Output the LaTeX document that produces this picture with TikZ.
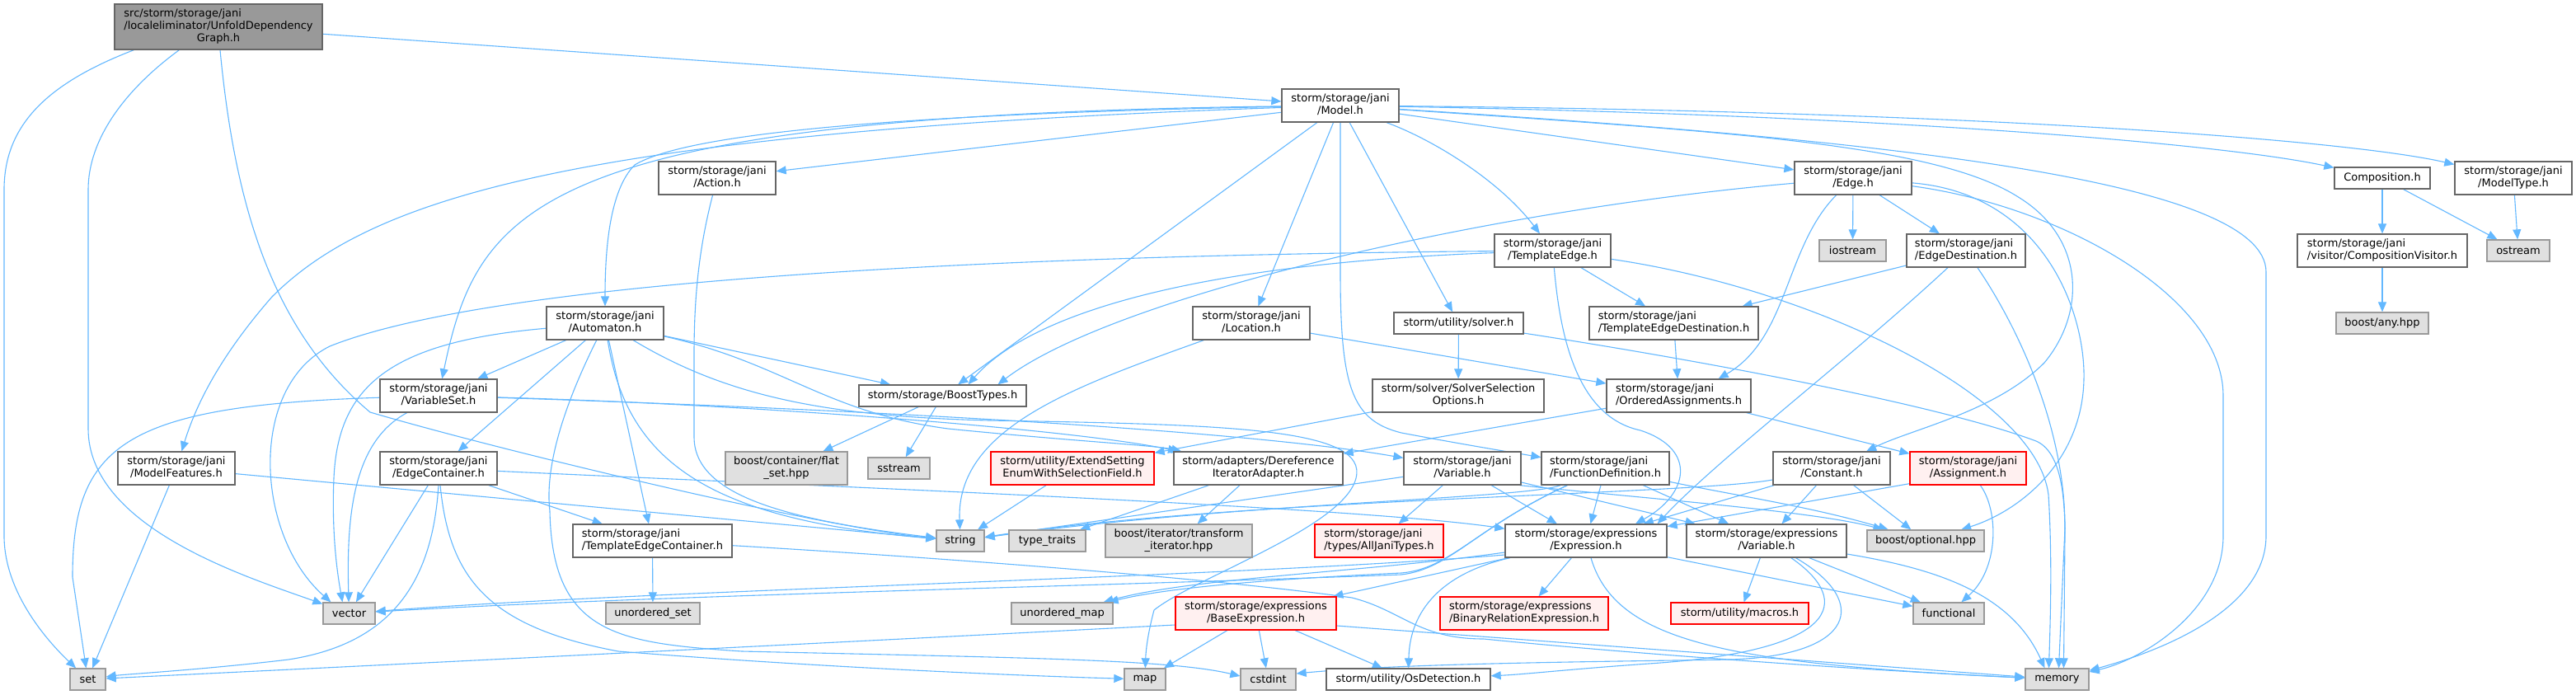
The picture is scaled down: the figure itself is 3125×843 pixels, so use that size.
\documentclass[tikz,border=0pt]{standalone}
\usepackage{fontspec}
\setmainfont{DejaVu Sans}
\usetikzlibrary{arrows.meta,calc}
\definecolor{steel}{HTML}{63B8FF}
\definecolor{gfor}{HTML}{666666}
\definecolor{gsix}{HTML}{999999}
\definecolor{gext}{HTML}{E0E0E0}
\definecolor{rfill}{HTML}{FFF0F0}
\definecolor{rdraw}{HTML}{FF0000}
\pgfdeclarelayer{back}
\pgfdeclarelayer{bg}
\pgfsetlayers{back,bg,main}
\newcommand\twol[2]{\begin{tabular}{@{}l@{}}#1\\\multicolumn{1}{@{}c@{}}{#2}\end{tabular}}
\newcommand\dn[7]{\node[#6,minimum width=#4pt,minimum height=#5pt] (#1) at (#2,#3) {#7};}
\begin{document}
\begin{tikzpicture}[x=1pt,y=-1pt,
  nd/.style={draw=gfor,fill=white,line width=1.3pt,inner sep=0pt,font=\fontsize{13}{15}\selectfont},
  ext/.style={nd,draw=gsix,fill=gext},
  redn/.style={nd,draw=rdraw,fill=rfill},
  mainn/.style={nd,fill=gsix},
  dep/.style={draw=steel,line width=1.1pt,-{Triangle[length=12pt,width=10pt]}}]
\begin{pgfonlayer}{back}
\fill[white] (0,0) rectangle (3125,843);
\end{pgfonlayer}
\useasboundingbox (0,0) rectangle (3125,843);

\dn{main}{265}{32.5}{252}{55}{mainn}{\begin{tabular}{@{}l@{}}src/storm/storage/jani\\/localeliminator/UnfoldDependency\\\multicolumn{1}{@{}c@{}}{Graph.h}\end{tabular}}
\dn{Model}{1626}{128}{142}{40}{nd}{\twol{storm/storage/jani}{/Model.h}}
\dn{Action}{870}{216}{142}{40}{nd}{\twol{storm/storage/jani}{/Action.h}}
\dn{Edge}{2248}{216}{142}{40}{nd}{\twol{storm/storage/jani}{/Edge.h}}
\dn{Composition}{2890}{216}{116}{26}{nd}{Composition.h}
\dn{ModelType}{3049}{216}{142}{40}{nd}{\twol{storm/storage/jani}{/ModelType.h}}
\dn{TemplateEdge}{1883.5}{304}{141}{40}{nd}{\twol{storm/storage/jani}{/TemplateEdge.h}}
\dn{iostream}{2247.5}{304}{81}{26}{ext}{iostream}
\dn{EdgeDest}{2385}{304}{144}{40}{nd}{\twol{storm/storage/jani}{/EdgeDestination.h}}
\dn{CompVisitor}{2890}{304}{206}{40}{nd}{\twol{storm/storage/jani}{/visitor/CompositionVisitor.h}}
\dn{ostream}{3055}{304}{76}{26}{ext}{ostream}
\dn{Automaton}{734}{392}{142}{40}{nd}{\twol{storm/storage/jani}{/Automaton.h}}
\dn{Location}{1518}{392}{142}{40}{nd}{\twol{storm/storage/jani}{/Location.h}}
\dn{solver}{1769.5}{392}{157}{26}{nd}{storm/utility/solver.h}
\dn{TEDest}{2030.5}{392}{205}{40}{nd}{\twol{storm/storage/jani}{/TemplateEdgeDestination.h}}
\dn{boostany}{2890}{392}{112}{26}{ext}{boost/any.hpp}
\dn{VariableSet}{532}{480}{142}{40}{nd}{\twol{storm/storage/jani}{/VariableSet.h}}
\dn{BoostTypes}{1143.5}{480}{203}{26}{nd}{storm/storage/BoostTypes.h}
\dn{SolverSel}{1769}{480}{208}{40}{nd}{\twol{storm/solver/SolverSelection}{Options.h}}
\dn{OrderedAss}{2036.5}{480}{175}{40}{nd}{\twol{storm/storage/jani}{/OrderedAssignments.h}}
\dn{ModelFeatures}{214}{568}{142}{40}{nd}{\twol{storm/storage/jani}{/ModelFeatures.h}}
\dn{EdgeContainer}{532}{568}{142}{40}{nd}{\twol{storm/storage/jani}{/EdgeContainer.h}}
\dn{flatset}{954}{568}{148}{40}{ext}{\twol{boost/container/flat}{\_set.hpp}}
\dn{sstream}{1090.5}{568}{75}{26}{ext}{sstream}
\dn{ExtendSetting}{1301}{568}{198}{40}{redn}{\twol{storm/utility/ExtendSetting}{EnumWithSelectionField.h}}
\dn{Deref}{1526.5}{568}{205}{40}{nd}{\twol{storm/adapters/Dereference}{IteratorAdapter.h}}
\dn{JVariable}{1774}{568}{142}{40}{nd}{\twol{storm/storage/jani}{/Variable.h}}
\dn{FunDef}{1947.5}{568}{155}{40}{nd}{\twol{storm/storage/jani}{/FunctionDefinition.h}}
\dn{Constant}{2222}{568}{142}{40}{nd}{\twol{storm/storage/jani}{/Constant.h}}
\dn{Assignment}{2387.5}{568}{141}{40}{redn}{\twol{storm/storage/jani}{/Assignment.h}}
\dn{TEContainer}{791.5}{656}{193}{40}{nd}{\twol{storm/storage/jani}{/TemplateEdgeContainer.h}}
\dn{string}{1165}{656}{58}{26}{ext}{string}
\dn{typetraits}{1270.5}{656}{93}{26}{ext}{type\_traits}
\dn{transform}{1430}{656}{178}{40}{ext}{\twol{boost/iterator/transform}{\_iterator.hpp}}
\dn{AllJani}{1673}{656}{156}{40}{redn}{\twol{storm/storage/jani}{/types/AllJaniTypes.h}}
\dn{Expression}{1924}{656}{196}{40}{nd}{\twol{storm/storage/expressions}{/Expression.h}}
\dn{EVariable}{2143}{656}{194}{40}{nd}{\twol{storm/storage/expressions}{/Variable.h}}
\dn{optional}{2336}{656}{142}{26}{ext}{boost/optional.hpp}
\dn{vector}{423.5}{744}{63}{26}{ext}{vector}
\dn{uset}{792}{744}{114}{26}{ext}{unordered\_set}
\dn{umap}{1288.5}{744}{123}{26}{ext}{unordered\_map}
\dn{BaseExpr}{1523.5}{744}{195}{40}{redn}{\twol{storm/storage/expressions}{/BaseExpression.h}}
\dn{BinRel}{1849}{744}{204}{40}{redn}{\twol{storm/storage/expressions}{/BinaryRelationExpression.h}}
\dn{macros}{2110.5}{744}{167}{26}{redn}{storm/utility/macros.h}
\dn{functional}{2364}{744}{86}{26}{ext}{functional}
\dn{set}{106.5}{824}{43}{26}{ext}{set}
\dn{map}{1389}{824}{50}{26}{ext}{map}
\dn{cstdint}{1538.5}{824}{67}{26}{ext}{cstdint}
\dn{OsDet}{1708.5}{824}{199}{26}{nd}{storm/utility/OsDetection.h}
\dn{memory}{2495.5}{824}{77}{26}{ext}{memory}

\begin{pgfonlayer}{bg}
% main
\draw[dep] (main) -- (Model);
\draw[dep] ($(main.south west)+(24,0)$) .. controls (60,100) and (5,150) .. (5,230) -- (5,650) .. controls (5,720) and (60,780) .. (set);
\draw[dep] ($(main.south west)+(79,0)$) .. controls (150,110) and (107,170) .. (107,230) -- (107,520) .. controls (107,640) and (300,700) .. (vector);
\draw[dep] ($(main.south)+(2,0)$) .. controls (285,250) and (330,400) .. (449,500) .. controls (620,550) and (1000,640) .. (string);
% Model
\draw[dep] (Model) -- (Action);
\draw[dep] (Model) .. controls (1000,140) and (820,170) .. (770,200) .. controls (740,230) and (734,300) .. (Automaton);
\draw[dep] (Model) .. controls (650,140) and (580,250) .. (VariableSet);
\draw[dep] (Model) .. controls (700,160) and (450,240) .. (330,360) .. controls (260,440) and (235,500) .. (ModelFeatures);
\draw[dep] (Model) -- (BoostTypes);
\draw[dep] (Model) -- (Location);
\draw[dep] (Model) -- (solver);
\draw[dep] (Model) .. controls (1740,170) and (1820,220) .. (TemplateEdge);
\draw[dep] (Model.south) -- (1626,330) .. controls (1626,470) and (1640,510) .. (1700,525) .. controls (1780,540) and (1830,548) .. (FunDef);
\draw[dep] (Model) -- (Edge);
\draw[dep] (Model) .. controls (2100,160) and (2350,175) .. (2450,240) .. controls (2530,290) and (2530,380) .. (2480,440) .. controls (2420,500) and (2320,520) .. (Constant);
\draw[dep] (Model) .. controls (2300,170) and (2749,220) .. (2749,330) -- (2749,650) .. controls (2749,740) and (2620,790) .. (memory);
\draw[dep] (Model) .. controls (2300,140) and (2700,175) .. (Composition);
\draw[dep] (Model) .. controls (2400,135) and (2850,170) .. (ModelType);
% Action
\draw[dep] (Action) .. controls (848,300) and (842,360) .. (842,430) -- (842,530) .. controls (842,600) and (950,630) .. (string);
% Automaton
\draw[dep] (Automaton) -- (VariableSet);
\draw[dep] (Automaton) -- (EdgeContainer);
\draw[dep] (Automaton) -- (TEContainer);
\draw[dep] (Automaton) .. controls (470,415) and (410,470) .. (405,580) .. controls (402,650) and (410,700) .. ($(vector.north)+(-8,0)$);
\draw[dep] (Automaton) .. controls (760,560) and (860,630) .. (string);
\draw[dep] (Automaton) .. controls (690,480) and (660,560) .. (667,620) .. controls (670,770) and (750,780) .. (900,790) .. controls (1250,798) and (1420,800) .. ($(cstdint.west)+(0,-4)$);
\draw[dep] (Automaton) -- (BoostTypes);
\draw[dep] (Automaton) .. controls (950,440) and (1000,500) .. (1150,520) .. controls (1300,535) and (1400,540) .. (Deref);
\draw[dep] (Automaton) .. controls (880,480) and (1000,505) .. (1200,510) .. controls (1500,515) and (1660,520) .. (1645,580) .. controls (1630,640) and (1450,700) .. (1400,740) .. controls (1392,770) and (1390,790) .. (map);
% VariableSet
\draw[dep] (VariableSet) .. controls (150,492) and (88,540) .. (88,700) -- (set);
\draw[dep] (VariableSet) .. controls (430,535) and (420,620) .. (vector);
\draw[dep] (VariableSet) .. controls (900,490) and (1300,520) .. (Deref);
\draw[dep] (VariableSet) .. controls (1000,495) and (1500,520) .. (JVariable);
% ModelFeatures
\draw[dep] (ModelFeatures) -- (set);
\draw[dep] (ModelFeatures) -- (string);
% EdgeContainer
\draw[dep] (EdgeContainer) -- (vector);
\draw[dep] (EdgeContainer.south) .. controls (525,700) and (480,780) .. (350,800) .. controls (250,812) and (150,818) .. (set);
\draw[dep] (EdgeContainer) .. controls (545,700) and (590,760) .. (750,790) .. controls (1000,810) and (1250,820) .. (map);
\draw[dep] (EdgeContainer) -- (TEContainer);
\draw[dep] (EdgeContainer) .. controls (1000,590) and (1650,615) .. (Expression);
% TEContainer
\draw[dep] (TEContainer) -- (uset);
\draw[dep] (TEContainer) .. controls (1200,680) and (1500,705) .. (1640,725) .. controls (1700,740) and (1720,775) .. (1800,775) .. controls (2000,795) and (2300,815) .. (memory);
% BoostTypes
\draw[dep] (BoostTypes) -- (flatset);
\draw[dep] (BoostTypes) -- (sstream);
% Location
\draw[dep] (Location) .. controls (1300,470) and (1160,520) .. (string);
\draw[dep] (Location) -- (OrderedAss);
% solver
\draw[dep] (solver) -- (SolverSel);
\draw[dep] (solver) .. controls (2050,435) and (2350,490) .. (2470,535) .. controls (2500,548) and (2505,600) .. (2505,650) -- ($(memory.north)+(8,0)$);
\draw[dep] (SolverSel) -- (ExtendSetting);
\draw[dep] (ExtendSetting) -- (string);
\draw[dep] (Deref) -- (typetraits);
\draw[dep] (Deref) -- (transform);
% jani Variable
\draw[dep] (JVariable) -- (AllJani);
\draw[dep] (JVariable) -- (Expression);
\draw[dep] (JVariable) -- (EVariable);
\draw[dep] ($(JVariable.south east)+(-2,0)$) .. controls (2000,605) and (2200,620) .. (optional);
\draw[dep] (JVariable) -- (string);
% FunctionDefinition
\draw[dep] (FunDef) -- (Expression);
\draw[dep] (FunDef) -- (EVariable);
\draw[dep] (FunDef) .. controls (2100,600) and (2200,615) .. (optional);
\draw[dep] (FunDef) .. controls (1850,605) and (1500,610) .. (string);
\draw[dep] ($(FunDef.south west)+(32,0)$) .. controls (1790,640) and (1760,690) .. (1700,695) .. controls (1550,702) and (1420,712) .. (umap);
\draw[dep] ($(FunDef.south west)+(32,0)$) .. controls (1790,640) and (1760,690) .. (1700,697) .. controls (1300,712) and (800,722) .. (vector);
% Constant
\draw[dep] (Constant) -- (Expression);
\draw[dep] (Constant) -- (EVariable);
\draw[dep] (Constant) -- (optional);
\draw[dep] ($(Constant.west)+(0,14)$) .. controls (2050,600) and (1500,605) .. (string);
% Assignment
\draw[dep] ($(Assignment.south west)+(0,-2)$) -- (Expression);
\draw[dep] (Assignment) .. controls (2425,620) and (2425,690) .. (functional);
% OrderedAssignments
\draw[dep] (OrderedAss) -- (Assignment);
\draw[dep] (OrderedAss) -- (Deref);
% Edge
\draw[dep] (Edge) .. controls (1800,255) and (1350,360) .. ($(BoostTypes.north)+(67,0)$);
\draw[dep] (Edge) -- (iostream);
\draw[dep] (Edge) -- (EdgeDest);
\draw[dep] (Edge) .. controls (2165,300) and (2170,410) .. ($(OrderedAss.north east)+(-40,0)$);
\draw[dep] (Edge) .. controls (2500,250) and (2697,360) .. (2697,480) -- (2697,650) .. controls (2697,740) and (2600,800) .. (memory);
\draw[dep] (Edge) .. controls (2480,235) and (2530,380) .. (2528,460) .. controls (2526,560) and (2450,620) .. (optional);
% EdgeDestination
\draw[dep] (EdgeDest) -- (TEDest);
\draw[dep] (EdgeDest) .. controls (2250,430) and (2080,560) .. ($(Expression.north east)+(-12,0)$);
\draw[dep] (EdgeDest) .. controls (2450,400) and (2505,520) .. (2505,640) -- ($(memory.north)+(2,0)$);
% TemplateEdge
\draw[dep] (TemplateEdge) -- (TEDest);
\draw[dep] (TemplateEdge) .. controls (1450,320) and (1250,380) .. ($(BoostTypes.north)+(31,0)$);
\draw[dep] (TemplateEdge) .. controls (1200,310) and (600,340) .. (400,420) .. controls (300,470) and (310,650) .. ($(vector.north)+(-22,0)$);
\draw[dep] (TemplateEdge) .. controls (1892,400) and (1910,505) .. (1990,522) .. controls (2060,545) and (2048,600) .. ($(Expression.north)+(60,0)$);
\draw[dep] (TemplateEdge) .. controls (2200,350) and (2470,480) .. (2485,600) .. controls (2490,680) and (2487,760) .. ($(memory.north)+(-10,0)$);
\draw[dep] (TEDest) -- (OrderedAss);
% Composition etc.
\draw[dep] (Composition) -- (CompVisitor);
\draw[dep] (Composition) -- (ostream);
\draw[dep] (ModelType) -- (ostream);
\draw[dep] (CompVisitor) -- (boostany);
% Expression
\draw[dep] ($(Expression.west)+(0,17)$) .. controls (1500,700) and (800,715) .. (vector);
\draw[dep] ($(Expression.west)+(0,14)$) .. controls (1650,695) and (1450,700) .. (umap);
\draw[dep] (Expression) -- (BaseExpr);
\draw[dep] (Expression) -- (BinRel);
\draw[dep] (Expression) .. controls (1750,695) and (1710,740) .. (OsDet);
\draw[dep] (Expression) .. controls (1960,780) and (2100,805) .. (memory);
\draw[dep] (Expression) -- (functional);
% expressions Variable
\draw[dep] (EVariable) -- (macros);
\draw[dep] (EVariable) -- (functional);
\draw[dep] (EVariable) .. controls (2250,730) and (2230,790) .. (2000,805) .. controls (1900,812) and (1850,818) .. (OsDet);
\draw[dep] (EVariable) .. controls (2270,730) and (2250,795) .. (2100,800) .. controls (1900,803) and (1700,805) .. ($(cstdint.east)+(0,-7)$);
\draw[dep] (EVariable) .. controls (2350,690) and (2440,720) .. ($(memory.north)+(-15,0)$);
% BaseExpression
\draw[dep] ($(BaseExpr.west)+(0,14)$) .. controls (1100,775) and (500,805) .. (set);
\draw[dep] (BaseExpr) -- (map);
\draw[dep] (BaseExpr) -- (cstdint);
\draw[dep] (BaseExpr) -- (OsDet);
\draw[dep] ($(BaseExpr.east)+(0,15)$) -- (memory);
\end{pgfonlayer}
\end{tikzpicture}
\end{document}
